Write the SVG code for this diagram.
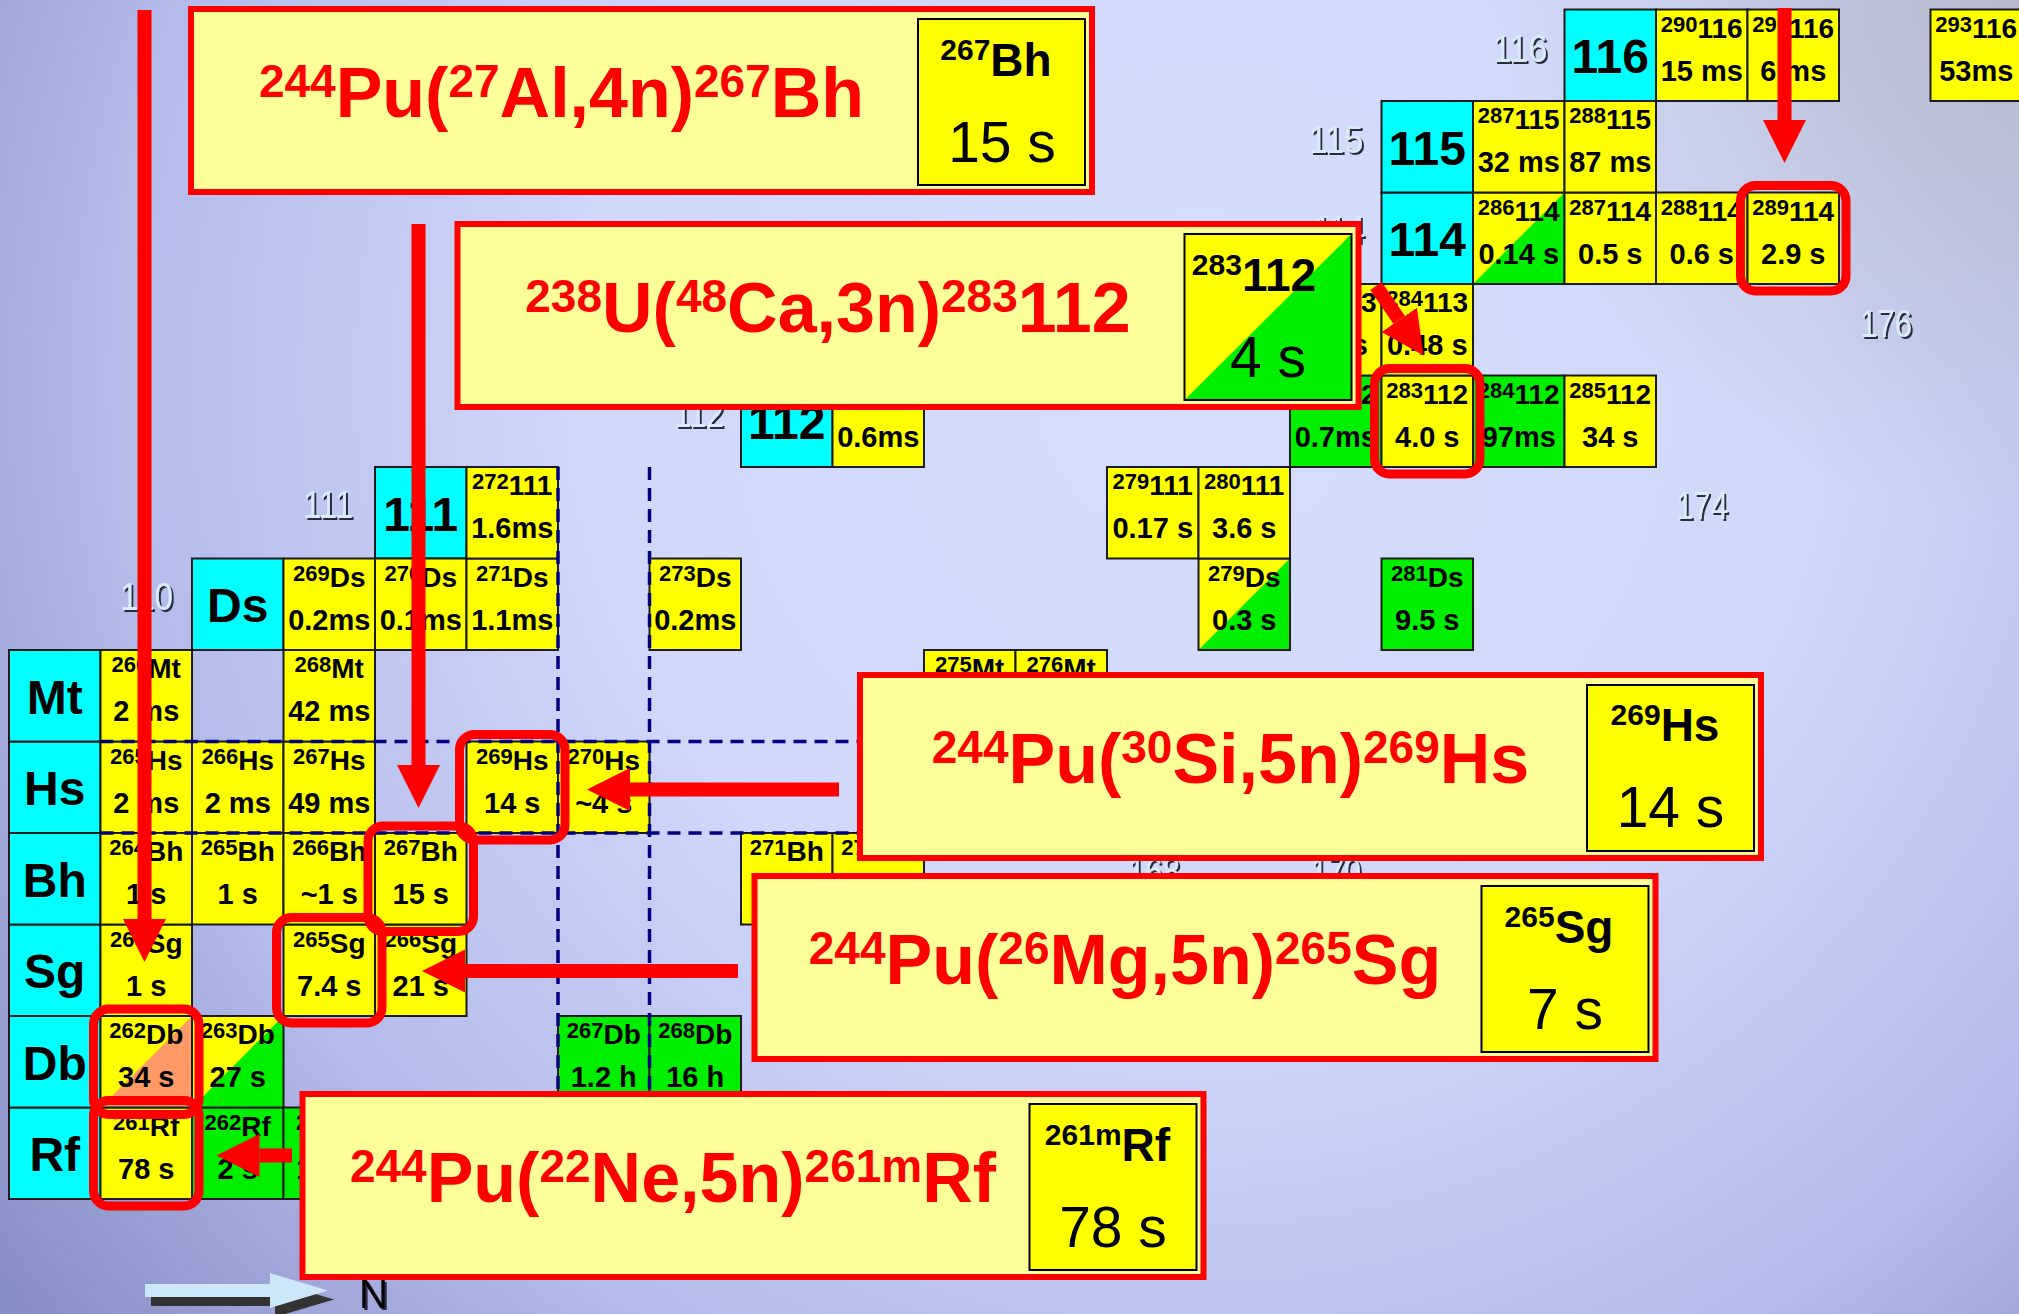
<svg xmlns="http://www.w3.org/2000/svg" width="2019" height="1314" viewBox="0 0 2019 1314">
<defs>
<radialGradient id="bg" gradientUnits="userSpaceOnUse" cx="1200" cy="380" r="1520">
<stop offset="0" stop-color="#d6defd"/>
<stop offset="0.4" stop-color="#d0d8fa"/>
<stop offset="0.72" stop-color="#b2baea"/>
<stop offset="1" stop-color="#848cc4"/>
</radialGradient>
<radialGradient id="corner" gradientUnits="userSpaceOnUse" cx="2019" cy="0" r="520">
<stop offset="0" stop-color="#b4b8c4" stop-opacity="0.85"/>
<stop offset="1" stop-color="#b4b8c4" stop-opacity="0"/>
</radialGradient>
<filter id="sh" x="-20%" y="-20%" width="150%" height="160%">
<feDropShadow dx="2" dy="2" stdDeviation="0.6" flood-color="#2a2a40" flood-opacity="1"/>
</filter>
<marker id="ah" markerUnits="userSpaceOnUse" markerWidth="44" markerHeight="44" refX="0" refY="21.5" orient="auto" viewBox="0 0 44 44">
<path d="M0,0 L43,21.5 L0,43 z" fill="#ff0000"/>
</marker>
<style>
.cell{stroke:#1a1a1a;stroke-width:2}
.o{fill:none;stroke:#1a1a1a;stroke-width:2}
.y{fill:#ffff00}
.g{fill:#00ee00}
.cy{fill:#00ffff}
.or{fill:#ff9966}
text{font-family:"Liberation Sans",Arial,Helvetica,sans-serif;fill:#000}
.tp{font-weight:bold;font-size:28px;text-anchor:middle}
.ms{font-size:22px}
.hf{font-weight:bold;font-size:29px;text-anchor:middle}
.lb{font-weight:bold;font-size:48px;text-anchor:middle}
.num{font-size:38px;fill:#d6ecfa;text-anchor:middle;filter:url(#sh)}
.dash{stroke:#000080;stroke-width:3.5;stroke-dasharray:13 8;fill:none}
.hl{fill:none;stroke:#ff0000;stroke-width:9}
.arr{stroke:#ff0000;stroke-width:14;fill:none;marker-end:url(#ah)}
.box{fill:#ffff99;stroke:#ff0000;stroke-width:6}
.ib{fill:#ffff00;stroke:#000;stroke-width:2}
.rx{font-weight:bold;font-size:70px;fill:#ff0000;text-anchor:middle}
.rs{font-size:46px}
.it{font-weight:bold;font-size:46px;text-anchor:middle}
.its{font-size:30px}
.ih{font-size:57px;text-anchor:middle}
</style>
</defs>
<rect width="2019" height="1314" fill="url(#bg)"/>
<rect width="2019" height="1314" fill="url(#corner)"/>

<g id="axis-labels">
<text class="num" x="146.5" y="610" textLength="53" lengthAdjust="spacingAndGlyphs">110</text>
<text class="num" x="328" y="518" textLength="50" lengthAdjust="spacingAndGlyphs">111</text>
<text class="num" x="699" y="426.5" textLength="50" lengthAdjust="spacingAndGlyphs">112</text>
<text class="num" x="1339" y="243" textLength="52" lengthAdjust="spacingAndGlyphs">114</text>
<text class="num" x="1336" y="153" textLength="55" lengthAdjust="spacingAndGlyphs">115</text>
<text class="num" x="1520" y="61.5" textLength="55" lengthAdjust="spacingAndGlyphs">116</text>
<text class="num" x="1886" y="336.5" textLength="52" lengthAdjust="spacingAndGlyphs">176</text>
<text class="num" x="1702" y="519" textLength="52" lengthAdjust="spacingAndGlyphs">174</text>
<text class="num" x="1154" y="885" textLength="52" lengthAdjust="spacingAndGlyphs">168</text>
<text class="num" x="1336" y="885" textLength="50" lengthAdjust="spacingAndGlyphs">170</text>
</g>

<g id="z-Rf" transform="translate(9 1107.5)"><rect class="cell cy" width="91.5" height="91.5"/><text class="lb" x="45.75" y="63.5">Rf</text></g>
<g id="z-Db" transform="translate(9 1016)"><rect class="cell cy" width="91.5" height="91.5"/><text class="lb" x="45.75" y="63.5">Db</text></g>
<g id="z-Sg" transform="translate(9 924.5)"><rect class="cell cy" width="91.5" height="91.5"/><text class="lb" x="45.75" y="63.5">Sg</text></g>
<g id="z-Bh" transform="translate(9 833)"><rect class="cell cy" width="91.5" height="91.5"/><text class="lb" x="45.75" y="63.5">Bh</text></g>
<g id="z-Hs" transform="translate(9 741.5)"><rect class="cell cy" width="91.5" height="91.5"/><text class="lb" x="45.75" y="63.5">Hs</text></g>
<g id="z-Mt" transform="translate(9 650)"><rect class="cell cy" width="91.5" height="91.5"/><text class="lb" x="45.75" y="63.5">Mt</text></g>
<g id="z-Ds" transform="translate(192 558.5)"><rect class="cell cy" width="91.5" height="91.5"/><text class="lb" x="45.75" y="63.5">Ds</text></g>
<g id="z-111" transform="translate(375 467)"><rect class="cell cy" width="91.5" height="91.5"/><text class="lb" x="45.75" y="63.5">111</text></g>
<g id="z-112" transform="translate(741 375.5)"><rect class="cell cy" width="91.5" height="91.5"/><text class="lb" x="45.75" y="63.5">112</text></g>
<g id="z-114" transform="translate(1381.5 192.5)"><rect class="cell cy" width="91.5" height="91.5"/><text class="lb" x="45.75" y="63.5">114</text></g>
<g id="z-115" transform="translate(1381.5 101)"><rect class="cell cy" width="91.5" height="91.5"/><text class="lb" x="45.75" y="63.5">115</text></g>
<g id="z-116" transform="translate(1564.5 9.5)"><rect class="cell cy" width="91.5" height="91.5"/><text class="lb" x="45.75" y="63.5">116</text></g>

<g id="n261Rf" transform="translate(100.5 1107.5)"><rect class="cell y" width="91.5" height="91.5"/><text class="tp" x="45.75" y="28"><tspan class="ms" dy="-6">261</tspan><tspan dy="6">Rf</tspan></text><text class="hf" x="45.75" y="71">78 s</text></g>
<g id="n262Rf" transform="translate(192 1107.5)"><rect class="cell g" width="91.5" height="91.5"/><text class="tp" x="45.75" y="28"><tspan class="ms" dy="-6">262</tspan><tspan dy="6">Rf</tspan></text><text class="hf" x="45.75" y="71">2 s</text></g>
<g id="n263Rf" transform="translate(283.5 1107.5)"><rect class="cell g" width="91.5" height="91.5"/><text class="tp" x="45.75" y="28"><tspan class="ms" dy="-6">263</tspan><tspan dy="6">Rf</tspan></text><text class="hf" x="45.75" y="71">10 m</text></g>

<g id="n262Db" transform="translate(100.5 1016)"><rect class="y" width="91.5" height="91.5"/><polygon class="or" points="91.5,0 91.5,91.5 0,91.5"/><rect class="o" width="91.5" height="91.5"/><text class="tp" x="45.75" y="28"><tspan class="ms" dy="-6">262</tspan><tspan dy="6">Db</tspan></text><text class="hf" x="45.75" y="71">34 s</text></g>
<g id="n263Db" transform="translate(192 1016)"><rect class="y" width="91.5" height="91.5"/><polygon class="g" points="91.5,0 91.5,91.5 0,91.5"/><rect class="o" width="91.5" height="91.5"/><text class="tp" x="45.75" y="28"><tspan class="ms" dy="-6">263</tspan><tspan dy="6">Db</tspan></text><text class="hf" x="45.75" y="71">27 s</text></g>
<g id="n267Db" transform="translate(558 1016)"><rect class="cell g" width="91.5" height="91.5"/><text class="tp" x="45.75" y="28"><tspan class="ms" dy="-6">267</tspan><tspan dy="6">Db</tspan></text><text class="hf" x="45.75" y="71">1.2 h</text></g>
<g id="n268Db" transform="translate(649.5 1016)"><rect class="cell g" width="91.5" height="91.5"/><text class="tp" x="45.75" y="28"><tspan class="ms" dy="-6">268</tspan><tspan dy="6">Db</tspan></text><text class="hf" x="45.75" y="71">16 h</text></g>

<g id="n263Sg" transform="translate(100.5 924.5)"><rect class="cell y" width="91.5" height="91.5"/><text class="tp" x="45.75" y="28"><tspan class="ms" dy="-6">263</tspan><tspan dy="6">Sg</tspan></text><text class="hf" x="45.75" y="71">1 s</text></g>
<g id="n265Sg" transform="translate(283.5 924.5)"><rect class="cell y" width="91.5" height="91.5"/><text class="tp" x="45.75" y="28"><tspan class="ms" dy="-6">265</tspan><tspan dy="6">Sg</tspan></text><text class="hf" x="45.75" y="71">7.4 s</text></g>
<g id="n266Sg" transform="translate(375 924.5)"><rect class="cell y" width="91.5" height="91.5"/><text class="tp" x="45.75" y="28"><tspan class="ms" dy="-6">266</tspan><tspan dy="6">Sg</tspan></text><text class="hf" x="45.75" y="71">21 s</text></g>

<g id="n264Bh" transform="translate(100.5 833)"><rect class="cell y" width="91.5" height="91.5"/><text class="tp" x="45.75" y="28"><tspan class="ms" dy="-6">264</tspan><tspan dy="6">Bh</tspan></text><text class="hf" x="45.75" y="71">1 s</text></g>
<g id="n265Bh" transform="translate(192 833)"><rect class="cell y" width="91.5" height="91.5"/><text class="tp" x="45.75" y="28"><tspan class="ms" dy="-6">265</tspan><tspan dy="6">Bh</tspan></text><text class="hf" x="45.75" y="71">1 s</text></g>
<g id="n266Bh" transform="translate(283.5 833)"><rect class="cell y" width="91.5" height="91.5"/><text class="tp" x="45.75" y="28"><tspan class="ms" dy="-6">266</tspan><tspan dy="6">Bh</tspan></text><text class="hf" x="45.75" y="71">~1 s</text></g>
<g id="n267Bh" transform="translate(375 833)"><rect class="cell y" width="91.5" height="91.5"/><text class="tp" x="45.75" y="28"><tspan class="ms" dy="-6">267</tspan><tspan dy="6">Bh</tspan></text><text class="hf" x="45.75" y="71">15 s</text></g>
<g id="n271Bh" transform="translate(741 833)"><rect class="cell y" width="91.5" height="91.5"/><text class="tp" x="45.75" y="28"><tspan class="ms" dy="-6">271</tspan><tspan dy="6">Bh</tspan></text></g>
<g id="n272Bh" transform="translate(832.5 833)"><rect class="cell y" width="91.5" height="91.5"/><text class="tp" x="45.75" y="28"><tspan class="ms" dy="-6">272</tspan><tspan dy="6">Bh</tspan></text></g>

<g id="n265Hs" transform="translate(100.5 741.5)"><rect class="cell y" width="91.5" height="91.5"/><text class="tp" x="45.75" y="28"><tspan class="ms" dy="-6">265</tspan><tspan dy="6">Hs</tspan></text><text class="hf" x="45.75" y="71">2 ms</text></g>
<g id="n266Hs" transform="translate(192 741.5)"><rect class="cell y" width="91.5" height="91.5"/><text class="tp" x="45.75" y="28"><tspan class="ms" dy="-6">266</tspan><tspan dy="6">Hs</tspan></text><text class="hf" x="45.75" y="71">2 ms</text></g>
<g id="n267Hs" transform="translate(283.5 741.5)"><rect class="cell y" width="91.5" height="91.5"/><text class="tp" x="45.75" y="28"><tspan class="ms" dy="-6">267</tspan><tspan dy="6">Hs</tspan></text><text class="hf" x="45.75" y="71">49 ms</text></g>
<g id="n269Hs" transform="translate(466.5 741.5)"><rect class="cell y" width="91.5" height="91.5"/><text class="tp" x="45.75" y="28"><tspan class="ms" dy="-6">269</tspan><tspan dy="6">Hs</tspan></text><text class="hf" x="45.75" y="71">14 s</text></g>
<g id="n270Hs" transform="translate(558 741.5)"><rect class="cell y" width="91.5" height="91.5"/><text class="tp" x="45.75" y="28"><tspan class="ms" dy="-6">270</tspan><tspan dy="6">Hs</tspan></text><text class="hf" x="45.75" y="71">~4 s</text></g>

<g id="n266Mt" transform="translate(100.5 650)"><rect class="cell y" width="91.5" height="91.5"/><text class="tp" x="45.75" y="28"><tspan class="ms" dy="-6">266</tspan><tspan dy="6">Mt</tspan></text><text class="hf" x="45.75" y="71">2 ms</text></g>
<g id="n268Mt" transform="translate(283.5 650)"><rect class="cell y" width="91.5" height="91.5"/><text class="tp" x="45.75" y="28"><tspan class="ms" dy="-6">268</tspan><tspan dy="6">Mt</tspan></text><text class="hf" x="45.75" y="71">42 ms</text></g>
<g id="n275Mt" transform="translate(924 650)"><rect class="cell y" width="91.5" height="91.5"/><text class="tp" x="45.75" y="28"><tspan class="ms" dy="-6">275</tspan><tspan dy="6">Mt</tspan></text></g>
<g id="n276Mt" transform="translate(1015.5 650)"><rect class="cell y" width="91.5" height="91.5"/><text class="tp" x="45.75" y="28"><tspan class="ms" dy="-6">276</tspan><tspan dy="6">Mt</tspan></text></g>

<g id="n269Ds" transform="translate(283.5 558.5)"><rect class="cell y" width="91.5" height="91.5"/><text class="tp" x="45.75" y="28"><tspan class="ms" dy="-6">269</tspan><tspan dy="6">Ds</tspan></text><text class="hf" x="45.75" y="71">0.2ms</text></g>
<g id="n270Ds" transform="translate(375 558.5)"><rect class="cell y" width="91.5" height="91.5"/><text class="tp" x="45.75" y="28"><tspan class="ms" dy="-6">270</tspan><tspan dy="6">Ds</tspan></text><text class="hf" x="45.75" y="71">0.1ms</text></g>
<g id="n271Ds" transform="translate(466.5 558.5)"><rect class="cell y" width="91.5" height="91.5"/><text class="tp" x="45.75" y="28"><tspan class="ms" dy="-6">271</tspan><tspan dy="6">Ds</tspan></text><text class="hf" x="45.75" y="71">1.1ms</text></g>
<g id="n273Ds" transform="translate(649.5 558.5)"><rect class="cell y" width="91.5" height="91.5"/><text class="tp" x="45.75" y="28"><tspan class="ms" dy="-6">273</tspan><tspan dy="6">Ds</tspan></text><text class="hf" x="45.75" y="71">0.2ms</text></g>
<g id="n279Ds" transform="translate(1198.5 558.5)"><rect class="y" width="91.5" height="91.5"/><polygon class="g" points="91.5,0 91.5,91.5 0,91.5"/><rect class="o" width="91.5" height="91.5"/><text class="tp" x="45.75" y="28"><tspan class="ms" dy="-6">279</tspan><tspan dy="6">Ds</tspan></text><text class="hf" x="45.75" y="71">0.3 s</text></g>
<g id="n281Ds" transform="translate(1381.5 558.5)"><rect class="cell g" width="91.5" height="91.5"/><text class="tp" x="45.75" y="28"><tspan class="ms" dy="-6">281</tspan><tspan dy="6">Ds</tspan></text><text class="hf" x="45.75" y="71">9.5 s</text></g>

<g id="n272-111" transform="translate(466.5 467)"><rect class="cell y" width="91.5" height="91.5"/><text class="tp" x="45.75" y="28"><tspan class="ms" dy="-6">272</tspan><tspan dy="6">111</tspan></text><text class="hf" x="45.75" y="71">1.6ms</text></g>
<g id="n279-111" transform="translate(1107 467)"><rect class="cell y" width="91.5" height="91.5"/><text class="tp" x="45.75" y="28"><tspan class="ms" dy="-6">279</tspan><tspan dy="6">111</tspan></text><text class="hf" x="45.75" y="71">0.17 s</text></g>
<g id="n280-111" transform="translate(1198.5 467)"><rect class="cell y" width="91.5" height="91.5"/><text class="tp" x="45.75" y="28"><tspan class="ms" dy="-6">280</tspan><tspan dy="6">111</tspan></text><text class="hf" x="45.75" y="71">3.6 s</text></g>

<g id="n277-112" transform="translate(832.5 375.5)"><rect class="cell y" width="91.5" height="91.5"/><text class="hf" x="45.75" y="71">0.6ms</text></g>
<g id="n282-112" transform="translate(1290 375.5)"><rect class="cell g" width="91.5" height="91.5"/><text class="tp" x="45.75" y="28"><tspan class="ms" dy="-6">282</tspan><tspan dy="6">112</tspan></text><text class="hf" x="45.75" y="71">0.7ms</text></g>
<g id="n283-112" transform="translate(1381.5 375.5)"><rect class="cell y" width="91.5" height="91.5"/><text class="tp" x="45.75" y="28"><tspan class="ms" dy="-6">283</tspan><tspan dy="6">112</tspan></text><text class="hf" x="45.75" y="71">4.0 s</text></g>
<g id="n284-112" transform="translate(1473 375.5)"><rect class="cell g" width="91.5" height="91.5"/><text class="tp" x="45.75" y="28"><tspan class="ms" dy="-6">284</tspan><tspan dy="6">112</tspan></text><text class="hf" x="45.75" y="71">97ms</text></g>
<g id="n285-112" transform="translate(1564.5 375.5)"><rect class="cell y" width="91.5" height="91.5"/><text class="tp" x="45.75" y="28"><tspan class="ms" dy="-6">285</tspan><tspan dy="6">112</tspan></text><text class="hf" x="45.75" y="71">34 s</text></g>

<g id="n283-113" transform="translate(1290 284)"><rect class="cell y" width="91.5" height="91.5"/><text class="tp" x="45.75" y="28"><tspan class="ms" dy="-6">283</tspan><tspan dy="6">113</tspan></text><text class="hf" x="45.75" y="71">0.1 s</text></g>
<g id="n284-113" transform="translate(1381.5 284)"><rect class="cell y" width="91.5" height="91.5"/><text class="tp" x="45.75" y="28"><tspan class="ms" dy="-6">284</tspan><tspan dy="6">113</tspan></text><text class="hf" x="45.75" y="71">0.48 s</text></g>

<g id="n286-114" transform="translate(1473 192.5)"><rect class="y" width="91.5" height="91.5"/><polygon class="g" points="91.5,0 91.5,91.5 0,91.5"/><rect class="o" width="91.5" height="91.5"/><text class="tp" x="45.75" y="28"><tspan class="ms" dy="-6">286</tspan><tspan dy="6">114</tspan></text><text class="hf" x="45.75" y="71">0.14 s</text></g>
<g id="n287-114" transform="translate(1564.5 192.5)"><rect class="cell y" width="91.5" height="91.5"/><text class="tp" x="45.75" y="28"><tspan class="ms" dy="-6">287</tspan><tspan dy="6">114</tspan></text><text class="hf" x="45.75" y="71">0.5 s</text></g>
<g id="n288-114" transform="translate(1656 192.5)"><rect class="cell y" width="91.5" height="91.5"/><text class="tp" x="45.75" y="28"><tspan class="ms" dy="-6">288</tspan><tspan dy="6">114</tspan></text><text class="hf" x="45.75" y="71">0.6 s</text></g>
<g id="n289-114" transform="translate(1747.5 192.5)"><rect class="cell y" width="91.5" height="91.5"/><text class="tp" x="45.75" y="28"><tspan class="ms" dy="-6">289</tspan><tspan dy="6">114</tspan></text><text class="hf" x="45.75" y="71">2.9 s</text></g>

<g id="n287-115" transform="translate(1473 101)"><rect class="cell y" width="91.5" height="91.5"/><text class="tp" x="45.75" y="28"><tspan class="ms" dy="-6">287</tspan><tspan dy="6">115</tspan></text><text class="hf" x="45.75" y="71">32 ms</text></g>
<g id="n288-115" transform="translate(1564.5 101)"><rect class="cell y" width="91.5" height="91.5"/><text class="tp" x="45.75" y="28"><tspan class="ms" dy="-6">288</tspan><tspan dy="6">115</tspan></text><text class="hf" x="45.75" y="71">87 ms</text></g>

<g id="n290-116" transform="translate(1656 9.5)"><rect class="cell y" width="91.5" height="91.5"/><text class="tp" x="45.75" y="28"><tspan class="ms" dy="-6">290</tspan><tspan dy="6">116</tspan></text><text class="hf" x="45.75" y="71">15 ms</text></g>
<g id="n291-116" transform="translate(1747.5 9.5)"><rect class="cell y" width="91.5" height="91.5"/><text class="tp" x="45.75" y="28"><tspan class="ms" dy="-6">291</tspan><tspan dy="6">116</tspan></text><text class="hf" x="45.75" y="71">6 ms</text></g>
<g id="n293-116" transform="translate(1930.5 9.5)"><rect class="cell y" width="91.5" height="91.5"/><text class="tp" x="45.75" y="28"><tspan class="ms" dy="-6">293</tspan><tspan dy="6">116</tspan></text><text class="hf" x="45.75" y="71">53ms</text></g>

<g id="shell-lines">
<line class="dash" x1="100.5" y1="741.5" x2="857" y2="741.5"/>
<line class="dash" x1="100.5" y1="833" x2="857" y2="833"/>
<line class="dash" x1="558" y1="467" x2="558" y2="1107.5"/>
<line class="dash" x1="649.5" y1="467" x2="649.5" y2="1107.5"/>
</g>

<g id="highlights">
<rect class="hl" x="1740.5" y="185.5" width="105.5" height="105.5" rx="15"/>
<rect class="hl" x="1374.5" y="368.5" width="105.5" height="105.5" rx="15"/>
<rect class="hl" x="459.5" y="734.5" width="105.5" height="105.5" rx="15"/>
<rect class="hl" x="368" y="826" width="105.5" height="105.5" rx="15"/>
<rect class="hl" x="276.5" y="917.5" width="105.5" height="105.5" rx="15"/>
<rect class="hl" x="93.5" y="1009" width="105.5" height="105.5" rx="15"/>
<rect class="hl" x="93.5" y="1100.5" width="105.5" height="105.5" rx="15"/>
</g>

<g id="connectors">
<line class="arr" x1="144.5" y1="10" x2="144.5" y2="919"/>
<line class="arr" x1="418.5" y1="224" x2="418.5" y2="765"/>
<line class="arr" x1="839" y1="789.5" x2="630" y2="789.5"/>
<line class="arr" x1="738" y1="971" x2="465" y2="971"/>
<line class="arr" x1="292" y1="1155.5" x2="259.5" y2="1155.5"/>
<line class="arr" x1="1784.5" y1="8" x2="1784.5" y2="120"/>
<line class="arr" x1="1376" y1="286" x2="1399.2" y2="319.9"/>
</g>

<g id="rxA">
<rect class="box" x="191" y="9" width="901" height="183"/>
<rect class="ib" x="918" y="19" width="167" height="166"/>
<text class="rx" x="561.5" y="116.5"><tspan class="rs" dy="-20">244</tspan><tspan dy="20">Pu(</tspan><tspan class="rs" dy="-20">27</tspan><tspan dy="20">Al,4n)</tspan><tspan class="rs" dy="-20">267</tspan><tspan dy="20">Bh</tspan></text>
<text class="it" x="996" y="76"><tspan class="its" dy="-16">267</tspan><tspan dy="16">Bh</tspan></text>
<text class="ih" x="1002" y="162">15 s</text>
</g>

<g id="rxB">
<rect class="box" x="457.5" y="224" width="901" height="183"/>
<rect fill="#ffff00" x="1184.5" y="234" width="167" height="166"/>
<polygon class="g" points="1351.5,234 1351.5,400 1184.5,400"/>
<rect fill="none" stroke="#000" stroke-width="2" x="1184.5" y="234" width="167" height="166"/>
<text class="rx" x="828" y="331.5"><tspan class="rs" dy="-20">238</tspan><tspan dy="20">U(</tspan><tspan class="rs" dy="-20">48</tspan><tspan dy="20">Ca,3n)</tspan><tspan class="rs" dy="-20">283</tspan><tspan dy="20">112</tspan></text>
<text class="it" x="1254" y="291"><tspan class="its" dy="-16">283</tspan><tspan dy="16">112</tspan></text>
<text class="ih" x="1268" y="377">4 s</text>
</g>

<g id="rxC">
<rect class="box" x="860" y="675" width="901" height="183"/>
<rect class="ib" x="1587" y="685" width="167" height="166"/>
<text class="rx" x="1230.5" y="782.5"><tspan class="rs" dy="-20">244</tspan><tspan dy="20">Pu(</tspan><tspan class="rs" dy="-20">30</tspan><tspan dy="20">Si,5n)</tspan><tspan class="rs" dy="-20">269</tspan><tspan dy="20">Hs</tspan></text>
<text class="it" x="1665" y="741"><tspan class="its" dy="-16">269</tspan><tspan dy="16">Hs</tspan></text>
<text class="ih" x="1670.5" y="827">14 s</text>
</g>

<g id="rxD">
<rect class="box" x="754.5" y="876" width="901" height="183"/>
<rect class="ib" x="1481.5" y="886" width="167" height="166"/>
<text class="rx" x="1125" y="983.5"><tspan class="rs" dy="-20">244</tspan><tspan dy="20">Pu(</tspan><tspan class="rs" dy="-20">26</tspan><tspan dy="20">Mg,5n)</tspan><tspan class="rs" dy="-20">265</tspan><tspan dy="20">Sg</tspan></text>
<text class="it" x="1559" y="942.5"><tspan class="its" dy="-16">265</tspan><tspan dy="16">Sg</tspan></text>
<text class="ih" x="1565" y="1028.5">7 s</text>
</g>

<g id="rxE">
<rect class="box" x="302.5" y="1094" width="901" height="183"/>
<rect class="ib" x="1029.5" y="1104" width="167" height="166"/>
<text class="rx" x="673" y="1201.5"><tspan class="rs" dy="-20">244</tspan><tspan dy="20">Pu(</tspan><tspan class="rs" dy="-20">22</tspan><tspan dy="20">Ne,5n)</tspan><tspan class="rs" dy="-20">261m</tspan><tspan dy="20">Rf</tspan></text>
<text class="it" x="1107.5" y="1160.5"><tspan class="its" dy="-16">261m</tspan><tspan dy="16">Rf</tspan></text>
<text class="ih" x="1113" y="1247">78 s</text>
</g>

<g id="n-axis">
<polygon fill="#333333" points="151,1293 275,1293 275,1282 334,1299.5 275,1317 275,1306 151,1306"/>
<polygon fill="#cce8f8" points="145,1284 270,1284 270,1273 328,1290.5 270,1308 270,1297 145,1297"/>
<text x="359" y="1308" font-size="40" fill="#cce8f8" filter="url(#sh)" textLength="29" lengthAdjust="spacingAndGlyphs">N</text>
</g>
</svg>
